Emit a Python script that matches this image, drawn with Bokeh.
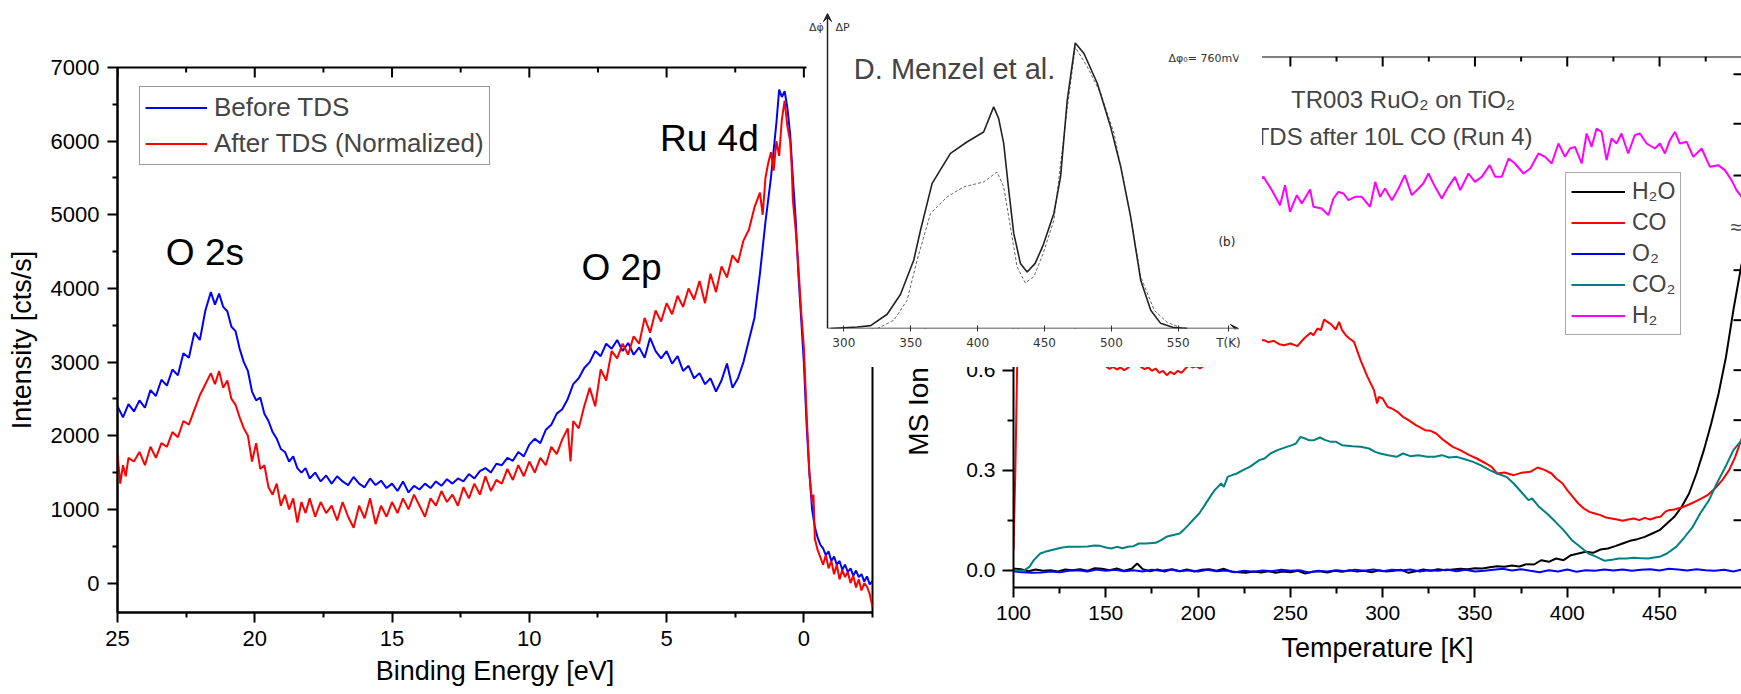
import math
from bokeh.plotting import figure
from bokeh.models import (Range1d, FixedTicker, Legend, LegendItem, Label, Span,
                          Arrow, VeeHead, Column, PrintfTickFormatter)
from bokeh.embed import file_html
from bokeh.resources import INLINE

FONT = "Liberation Sans"

# ---------------- Valence band (Al K alpha) ----------------
vb_before = [(25.0, 2400), (24.8, 2250), (24.6, 2430), (24.4, 2330), (24.2, 2480), (24.0, 2380),
             (23.8, 2620), (23.6, 2540), (23.4, 2760), (23.2, 2680), (23.0, 2900), (22.8, 2820),
             (22.6, 3120), (22.4, 3060), (22.2, 3400), (22.0, 3300), (21.8, 3700), (21.6, 3950),
             (21.45, 3780), (21.3, 3930), (21.15, 3750), (21.0, 3690), (20.85, 3480), (20.7, 3420),
             (20.55, 3180), (20.4, 3000), (20.25, 2880), (20.1, 2600), (19.95, 2480), (19.8, 2520),
             (19.65, 2300), (19.5, 2200), (19.35, 2050), (19.2, 1960), (19.05, 1820), (18.9, 1780),
             (18.75, 1650), (18.6, 1720), (18.45, 1560), (18.3, 1500), (18.15, 1560), (18.0, 1420),
             (17.8, 1500), (17.6, 1380), (17.4, 1460), (17.2, 1350), (17.0, 1450), (16.8, 1380),
             (16.6, 1330), (16.4, 1440), (16.2, 1350), (16.0, 1300), (15.8, 1420), (15.6, 1330),
             (15.4, 1390), (15.2, 1290), (15.0, 1350), (14.8, 1250), (14.6, 1380), (14.4, 1230),
             (14.2, 1320), (14.0, 1270), (13.8, 1350), (13.6, 1290), (13.4, 1380), (13.2, 1320),
             (13.0, 1410), (12.8, 1350), (12.6, 1420), (12.4, 1380), (12.2, 1480), (12.0, 1420),
             (11.8, 1520), (11.6, 1560), (11.4, 1500), (11.2, 1620), (11.0, 1600), (10.8, 1700),
             (10.6, 1660), (10.4, 1780), (10.2, 1720), (10.0, 1880), (9.8, 1960), (9.6, 1900),
             (9.4, 2080), (9.2, 2150), (9.0, 2300), (8.8, 2360), (8.6, 2500), (8.4, 2700),
             (8.2, 2780), (8.0, 2920), (7.8, 3000), (7.6, 3150), (7.4, 3080), (7.2, 3250),
             (7.0, 3180), (6.8, 3300), (6.6, 3150), (6.4, 3260), (6.2, 3100), (6.0, 3200),
             (5.8, 3060), (5.6, 3330), (5.4, 3150), (5.2, 3050), (5.0, 3150), (4.8, 2980),
             (4.6, 3080), (4.4, 2880), (4.2, 2950), (4.0, 2780), (3.8, 2850), (3.6, 2700),
             (3.4, 2780), (3.2, 2600), (3.0, 2750), (2.8, 2980), (2.6, 2650), (2.4, 2780),
             (2.2, 3000), (2.0, 3300), (1.8, 3600), (1.6, 4200), (1.4, 4900), (1.2, 5500),
             (1.0, 6250), (0.9, 6700), (0.8, 6600), (0.7, 6680), (0.6, 6450), (0.5, 6100),
             (0.4, 5500), (0.3, 4950), (0.2, 4200), (0.1, 3600), (0.0, 3000), (-0.1, 2150),
             (-0.2, 1500), (-0.3, 1000), (-0.4, 760), (-0.5, 620), (-0.6, 520), (-0.7, 470),
             (-0.8, 380), (-0.9, 430), (-1.0, 300), (-1.1, 360), (-1.2, 250), (-1.3, 300),
             (-1.4, 180), (-1.5, 250), (-1.6, 150), (-1.7, 200), (-1.8, 100), (-1.9, 170),
             (-2.0, 80), (-2.1, 120), (-2.2, 20), (-2.3, 90), (-2.4, -20), (-2.5, 30)]

vb_after = [(25.0, 1750), (24.9, 1350), (24.8, 1600), (24.7, 1450), (24.6, 1700), (24.4, 1650),
            (24.2, 1780), (24.0, 1600), (23.8, 1850), (23.6, 1700), (23.4, 1900), (23.2, 1850),
            (23.0, 2050), (22.8, 1980), (22.6, 2200), (22.4, 2150), (22.2, 2350), (22.0, 2550),
            (21.8, 2700), (21.6, 2850), (21.45, 2700), (21.3, 2880), (21.15, 2650), (21.0, 2750),
            (20.85, 2500), (20.7, 2420), (20.55, 2250), (20.4, 2100), (20.25, 2000), (20.1, 1650),
            (19.95, 1900), (19.8, 1550), (19.65, 1600), (19.5, 1300), (19.35, 1200), (19.2, 1350),
            (19.05, 1050), (18.9, 1200), (18.75, 1000), (18.6, 1150), (18.45, 820), (18.3, 1100),
            (18.15, 950), (18.0, 1150), (17.8, 900), (17.6, 1100), (17.4, 950), (17.2, 1050),
            (17.0, 850), (16.8, 1100), (16.6, 900), (16.4, 750), (16.2, 1050), (16.0, 880),
            (15.8, 1150), (15.6, 800), (15.4, 1050), (15.2, 900), (15.0, 1100), (14.8, 950),
            (14.6, 1150), (14.4, 1000), (14.2, 1200), (14.0, 1050), (13.8, 900), (13.6, 1150),
            (13.4, 1050), (13.2, 1250), (13.0, 1100), (12.8, 1200), (12.6, 1050), (12.4, 1300),
            (12.2, 1150), (12.0, 1350), (11.8, 1200), (11.6, 1450), (11.4, 1250), (11.2, 1400),
            (11.0, 1350), (10.8, 1550), (10.6, 1400), (10.4, 1600), (10.2, 1450), (10.0, 1650),
            (9.8, 1500), (9.6, 1700), (9.4, 1600), (9.2, 1850), (9.0, 1750), (8.8, 1950),
            (8.6, 2100), (8.5, 1650), (8.4, 2200), (8.2, 2100), (8.0, 2400), (7.8, 2650),
            (7.6, 2400), (7.4, 2900), (7.2, 2750), (7.0, 3150), (6.8, 3050), (6.6, 3250),
            (6.4, 3100), (6.2, 3350), (6.0, 3250), (5.8, 3600), (5.6, 3400), (5.4, 3700),
            (5.2, 3550), (5.0, 3800), (4.8, 3650), (4.6, 3900), (4.4, 3750), (4.2, 4000),
            (4.0, 3850), (3.8, 4100), (3.6, 3800), (3.4, 4200), (3.2, 3950), (3.0, 4300),
            (2.8, 4150), (2.6, 4450), (2.4, 4350), (2.2, 4650), (2.0, 4800), (1.8, 5100),
            (1.6, 5300), (1.5, 5000), (1.4, 5500), (1.3, 5700), (1.2, 5850), (1.1, 5600),
            (1.0, 6000), (0.9, 5800), (0.8, 6300), (0.7, 6550), (0.6, 6200), (0.5, 6000),
            (0.45, 5700), (0.4, 5200), (0.3, 4800), (0.2, 4300), (0.1, 3700), (0.0, 3200),
            (-0.1, 2300), (-0.2, 1500), (-0.3, 1100), (-0.35, 1200), (-0.4, 600), (-0.5, 450),
            (-0.6, 350), (-0.7, 250), (-0.8, 380), (-0.9, 200), (-1.0, 300), (-1.1, 120),
            (-1.2, 250), (-1.3, 50), (-1.4, 180), (-1.5, 80), (-1.6, 150), (-1.7, 0),
            (-1.8, 100), (-1.9, -60), (-2.0, 50), (-2.1, -100), (-2.2, 0), (-2.3, -50),
            (-2.4, -150), (-2.5, -330)]

vb_x_ticks = [25, 20, 15, 10, 5, 0]
vb_x_minor = [22.5, 17.5, 12.5, 7.5, 2.5, -2.5]
vb_y_ticks = [0, 1000, 2000, 3000, 4000, 5000, 6000, 7000]
vb_y_minor = [500, 1500, 2500, 3500, 4500, 5500, 6500]
vb_peak_names = ["O 2s", "O 2p", "Ru 4d"]
vb_peak_e = [23.24, 8.10, 5.24]
vb_peak_i = [4489, 4289, 6034]

# ---------------- TDS after 10L CO ----------------
tds_h2o = [(100, 0.005), (104, 0.003), (108, -0.003), (112, 0.002), (116, -0.002), (120, 0.0),
           (124, -0.004), (128, 0.002), (132, 0.0), (136, 0.003), (140, -0.002), (144, 0.006),
           (148, 0.004), (152, 0.0), (156, 0.005), (160, -0.002), (164, 0.004), (167, 0.02),
           (170, 0.003), (174, -0.003), (178, 0.002), (182, -0.004), (186, 0.003), (190, -0.003),
           (194, 0.002), (198, -0.004), (202, 0.001), (206, 0.003), (210, -0.002), (214, 0.004),
           (218, -0.004), (222, -0.006), (226, -0.008), (230, -0.004), (234, -0.007), (238, -0.003),
           (242, -0.008), (246, -0.004), (250, -0.006), (254, -0.002), (258, -0.01), (262, -0.005),
           (266, -0.003), (270, -0.007), (274, -0.002), (278, -0.005), (282, 0.0), (286, -0.004),
           (290, -0.002), (294, -0.006), (298, 0.0), (302, -0.004), (306, -0.002), (310, 0.001),
           (314, -0.008), (318, -0.003), (322, 0.002), (326, -0.002), (330, 0.003), (334, 0.0),
           (338, 0.002), (342, 0.004), (346, 0.003), (350, 0.006), (354, 0.005), (358, 0.009),
           (362, 0.012), (366, 0.01), (370, 0.014), (374, 0.011), (378, 0.018), (382, 0.017),
           (386, 0.03), (390, 0.025), (394, 0.035), (398, 0.03), (402, 0.045), (406, 0.05),
           (410, 0.055), (414, 0.052), (418, 0.062), (422, 0.065), (426, 0.072), (430, 0.08),
           (434, 0.088), (438, 0.093), (442, 0.1), (446, 0.11), (450, 0.12), (454, 0.14),
           (458, 0.16), (462, 0.19), (466, 0.23), (470, 0.29), (474, 0.36), (478, 0.44),
           (482, 0.53), (486, 0.64), (490, 0.78), (494.5, 0.92)]

tds_co = [(100, 0.06), (101, 0.3), (102, 0.62), (103, 0.9), (105, 1.0), (110, 0.95), (120, 0.85),
          (130, 0.75), (140, 0.68), (148, 0.63), (150, 0.612), (152, 0.604), (154, 0.61),
          (156, 0.602), (158, 0.608), (160, 0.6), (162, 0.607), (164, 0.62), (167, 0.625),
          (169, 0.61), (171, 0.603), (173, 0.608), (175, 0.598), (177, 0.605), (179, 0.592),
          (181, 0.598), (183, 0.585), (185, 0.595), (187, 0.588), (189, 0.598), (191, 0.592),
          (193, 0.604), (195, 0.615), (197, 0.608), (199, 0.612), (201, 0.605), (203, 0.613),
          (206, 0.63), (212, 0.65), (220, 0.67), (228, 0.685), (232, 0.69), (235.7, 0.69),
          (238, 0.684), (241, 0.688), (244, 0.678), (246.6, 0.675), (250, 0.68), (253.8, 0.672),
          (257.4, 0.695), (261, 0.712), (262.5, 0.705), (264.7, 0.725), (266.5, 0.72),
          (268.3, 0.752), (270, 0.745), (272, 0.738), (274.6, 0.722), (276.4, 0.745), (278, 0.72),
          (280, 0.705), (282, 0.695), (284.5, 0.685), (288, 0.63), (291.8, 0.58), (295.3, 0.54),
          (297, 0.50), (298, 0.52), (300, 0.515), (302.6, 0.49), (305, 0.485), (308, 0.475),
          (311, 0.46), (314, 0.45), (318, 0.435), (323, 0.42), (326, 0.418), (329, 0.41),
          (333, 0.39), (338, 0.37), (342, 0.36), (347, 0.345), (351, 0.335), (356, 0.32),
          (359, 0.31), (362, 0.29), (366, 0.293), (371, 0.285), (375, 0.292), (380, 0.295),
          (384, 0.308), (388, 0.3), (391.5, 0.29), (394, 0.275), (397.5, 0.26), (400, 0.24),
          (403, 0.22), (406, 0.2), (409, 0.185), (412, 0.175), (415, 0.17), (418, 0.165),
          (421, 0.158), (424, 0.155), (427, 0.152), (430, 0.148), (433, 0.152), (436, 0.155),
          (439, 0.15), (442, 0.157), (445, 0.152), (448, 0.158), (450.5, 0.16), (453, 0.175),
          (455, 0.18), (458, 0.182), (462, 0.188), (466, 0.197), (471, 0.21), (476, 0.225),
          (480, 0.245), (484, 0.27), (487.7, 0.3), (491, 0.34), (494.5, 0.395)]

tds_o2 = [(100, -0.004), (105, -0.006), (110, -0.008), (115, -0.007), (120, -0.004), (125, -0.006),
          (130, -0.002), (135, 0.0), (140, -0.004), (145, 0.002), (150, -0.002), (155, 0.001),
          (160, -0.003), (165, 0.0), (170, -0.004), (175, 0.001), (180, -0.002), (185, 0.002),
          (190, -0.003), (195, 0.0), (200, -0.004), (205, 0.001), (210, -0.003), (215, -0.001),
          (220, -0.006), (225, -0.002), (230, -0.005), (235, -0.001), (240, -0.003), (245, 0.001),
          (250, -0.002), (255, 0.0), (260, -0.007), (265, -0.002), (270, -0.004), (275, 0.0),
          (280, -0.003), (285, 0.001), (290, -0.002), (295, 0.002), (300, -0.003), (305, 0.001),
          (310, -0.001), (315, 0.002), (320, -0.004), (325, 0.0), (330, -0.002), (335, 0.002),
          (340, -0.003), (345, 0.001), (350, -0.004), (355, -0.002), (360, 0.001), (365, 0.004),
          (370, -0.001), (375, 0.003), (380, -0.002), (385, -0.006), (390, 0.0), (395, -0.004),
          (400, 0.002), (405, -0.005), (410, 0.0), (415, -0.002), (420, 0.002), (425, -0.001),
          (430, 0.002), (435, -0.002), (440, 0.001), (445, 0.003), (450, -0.001), (455, 0.004),
          (460, 0.002), (465, -0.001), (470, 0.003), (475, 0.0), (480, -0.002), (485, 0.001),
          (490, -0.004), (494.5, 0.002)]

tds_co2 = [(100, 0.0), (103, -0.002), (106, 0.0), (108.6, 0.01), (111, 0.03), (114.5, 0.05),
           (117, 0.055), (120.4, 0.06), (124, 0.065), (126.4, 0.068), (130, 0.07), (135, 0.07),
           (140, 0.071), (144, 0.074), (147, 0.073), (150, 0.068), (153, 0.065), (156, 0.07),
           (159, 0.066), (162, 0.07), (165, 0.072), (168, 0.08), (172, 0.08), (177, 0.082),
           (180, 0.09), (182.8, 0.10), (186, 0.105), (190, 0.11), (192, 0.12), (194.7, 0.135),
           (198, 0.155), (200.6, 0.17), (203, 0.19), (206.5, 0.22), (209, 0.24), (212.5, 0.26),
           (214, 0.25), (216, 0.28), (218.4, 0.285), (221, 0.29), (224.3, 0.30), (228, 0.31),
           (233.2, 0.33), (236, 0.335), (239.2, 0.35), (243, 0.36), (248, 0.37), (251, 0.375),
           (253, 0.38), (255.5, 0.40), (258, 0.395), (260, 0.39), (262.9, 0.39), (266, 0.398),
           (269, 0.39), (272, 0.385), (274.8, 0.385), (278, 0.375), (283.7, 0.372), (288, 0.37),
           (292.6, 0.365), (296, 0.355), (298.6, 0.35), (303, 0.345), (307.5, 0.34), (311, 0.35),
           (315, 0.342), (319.4, 0.345), (324, 0.34), (328.3, 0.34), (332, 0.345), (336, 0.338),
           (340.2, 0.34), (345, 0.332), (349, 0.325), (353, 0.315), (358, 0.30), (362, 0.29),
           (367, 0.28), (371, 0.26), (375.8, 0.23), (379, 0.21), (381, 0.215), (384.7, 0.19),
           (389, 0.17), (393.6, 0.145), (398, 0.12), (402.5, 0.09), (407, 0.07), (411.4, 0.05),
           (415, 0.042), (420.3, 0.028), (425, 0.032), (428, 0.035), (432.2, 0.035), (436, 0.037),
           (440, 0.036), (444, 0.035), (447, 0.038), (450, 0.04), (454, 0.05), (459, 0.07),
           (463, 0.095), (468, 0.13), (472, 0.17), (476.8, 0.21), (481, 0.26), (485.7, 0.31),
           (490, 0.36), (494.5, 0.39)]

tds_h2 = [(225, 1.13), (230, 1.16), (235.4, 1.18), (240, 1.14), (244.4, 1.095), (247.1, 1.155),
          (249.8, 1.075), (253.5, 1.125), (256.2, 1.10), (260.7, 1.142), (262.5, 1.09),
          (267, 1.085), (270.6, 1.065), (273.3, 1.115), (276, 1.135), (278.8, 1.13), (281.5, 1.11),
          (285, 1.12), (288.7, 1.12), (293.2, 1.09), (296, 1.165), (298.6, 1.12), (301.3, 1.145),
          (305, 1.11), (308.6, 1.145), (312, 1.185), (315.8, 1.125), (319.4, 1.145), (322, 1.16),
          (324.8, 1.19), (328.4, 1.15), (332, 1.115), (335.6, 1.15), (339.2, 1.18), (342, 1.14),
          (346.5, 1.19), (350, 1.165), (353.7, 1.18), (358, 1.215), (361, 1.18), (364.5, 1.18),
          (368.2, 1.235), (371.7, 1.22), (376.3, 1.19), (380, 1.205), (384.4, 1.25), (388, 1.24),
          (391.6, 1.22), (395.2, 1.28), (398.8, 1.24), (401.5, 1.265), (404.2, 1.27),
          (407.8, 1.22), (410.5, 1.31), (413.2, 1.27), (415.9, 1.325), (418.6, 1.315),
          (421.3, 1.23), (424, 1.295), (426.7, 1.28), (429.4, 1.31), (433, 1.25), (436.6, 1.305),
          (439.4, 1.31), (443, 1.28), (447.5, 1.265), (450.2, 1.28), (452.9, 1.25), (455.6, 1.29),
          (458.4, 1.315), (461, 1.28), (464.7, 1.285), (468.3, 1.24), (472.8, 1.265),
          (477.3, 1.21), (481.8, 1.215), (485.4, 1.20), (489, 1.17), (491.7, 1.14), (494.5, 1.12)]

tds_x_ticks = [100, 150, 200, 250, 300, 350, 400, 450]
tds_x_minor = [125, 175, 225, 275, 325, 375, 425, 475]
tds_y_ticks = [0.0, 0.3, 0.6]
tds_y_minor = [0.15, 0.45]
tds_right_ticks = [0.15, 0.3, 0.45, 0.6, 0.75, 0.9, 1.184, 1.339, 1.488]
tds_series_names = ["H\u2082O", "CO", "O\u2082", "CO\u2082", "H\u2082"]
tds_series_colors = ["#000000", "#ff0000", "#0000ff", "#008080", "#ff00ff"]

# ---------------- Inset: D. Menzel et al. ----------------
menzel_solid = [(290, 0.0), (310, 0.005), (320, 0.01), (332.4, 0.05), (342.4, 0.12), (352.3, 0.24),
                (357.3, 0.344), (366, 0.508), (379.7, 0.613), (392, 0.653), (404.5, 0.688),
                (412, 0.776), (415.7, 0.736), (419.5, 0.648), (423, 0.496), (427, 0.333),
                (432, 0.228), (437, 0.198), (443, 0.228), (449, 0.292), (457, 0.403), (462, 0.531),
                (467, 0.80), (473, 1.0), (479.5, 0.963), (489.5, 0.858), (499.4, 0.706),
                (507, 0.566), (514.4, 0.391), (521.9, 0.169), (529.4, 0.064), (536.8, 0.018),
                (546.8, 0.003), (556.7, 0.0)]
menzel_dashed = [(325, 0.0), (337.4, 0.029), (347.3, 0.099), (354.8, 0.24), (364.8, 0.403),
                 (377.2, 0.461), (389.7, 0.496), (404.5, 0.513), (414.5, 0.548), (419.5, 0.496),
                 (424.5, 0.356), (429.5, 0.216), (435.6, 0.160), (442, 0.181), (449, 0.263),
                 (457, 0.379), (467, 0.77), (473, 0.985), (482, 0.916), (492, 0.823), (502, 0.683),
                 (514.4, 0.391), (522, 0.18), (532, 0.064), (541.8, 0.021), (551.7, 0.003),
                 (556.7, 0.0)]
menzel_x_ticks = [300, 350, 400, 450, 500, 550]
menzel_t_axis_origin = 287.8      # temperature where the hand-drawn vertical axis stands
menzel_t_label_pos = 587.5        # where the "T(K)" axis caption sits
menzel_t_label = "T(K)"


def unzip(pairs):
    return [a for a, _ in pairs], [b for _, b in pairs]


def style_axis(ax, tick_out, minor_out, label_px, title_px):
    ax.axis_line_width = 2
    ax.axis_line_color = "black"
    ax.major_tick_line_width = 2
    ax.minor_tick_line_width = 2
    ax.major_tick_out = tick_out
    ax.major_tick_in = 0
    ax.minor_tick_out = minor_out
    ax.minor_tick_in = 0
    ax.major_label_text_font = FONT
    ax.major_label_text_font_size = label_px
    ax.major_label_text_color = "black"
    ax.axis_label_text_font = FONT
    ax.axis_label_text_font_size = title_px
    ax.axis_label_text_font_style = "normal"
    ax.axis_label_text_color = "black"


def inward_ticks(p, xs, ys, length, angle):
    p.ray(x=xs, y=ys, length=length, angle=angle, length_units="screen",
          line_color="black", line_width=2)


# ================= Left chart =================
pL = figure(width=890, height=694, x_range=Range1d(25, -2.5), y_range=Range1d(-400, 7000),
            output_backend="svg", toolbar_location=None, frame_align=False,
            min_border_left=117, min_border_right=18, min_border_top=67, min_border_bottom=82,
            background_fill_color="white", border_fill_color="white")
pL.grid.visible = False
pL.outline_line_color = "black"
pL.outline_line_width = 2

xa = pL.xaxis[0]
xa.ticker = FixedTicker(ticks=vb_x_ticks, minor_ticks=vb_x_minor)
style_axis(xa, 10, 5, "22px", "27px")
xa.major_label_standoff = 8
xa.axis_label = "Binding Energy [eV]"
xa.axis_label_standoff = 7

ya = pL.yaxis[0]
ya.ticker = FixedTicker(ticks=vb_y_ticks, minor_ticks=vb_y_minor)
style_axis(ya, 10, 5, "22px", "27px")
ya.major_label_standoff = 8
ya.axis_label = "Intensity [cts/s]"
ya.axis_label_standoff = 11

vb_top = pL.y_range.end
inward_ticks(pL, vb_x_ticks, [vb_top] * len(vb_x_ticks), 10, -math.pi / 2)
inward_ticks(pL, vb_x_minor, [vb_top] * len(vb_x_minor), 5, -math.pi / 2)

e_b, i_b = unzip(vb_before)
e_a, i_a = unzip(vb_after)
r_before = pL.line(e_b, i_b, line_color="#0000ff", line_width=2)
r_after = pL.line(e_a, i_a, line_color="#ff0000", line_width=2)

legL = Legend(items=[LegendItem(label="Before TDS", renderers=[r_before]),
                     LegendItem(label="After TDS (Normalized)", renderers=[r_after])],
              location=(22, 447), label_text_font=FONT, label_text_font_size="26px",
              glyph_width=62, glyph_height=27, label_height=27, spacing=5, padding=5,
              label_standoff=7, border_line_color="#333333", border_line_width=1.5,
              background_fill_color="white", background_fill_alpha=1.0)
pL.add_layout(legL)

for name, ex, iy in zip(vb_peak_names, vb_peak_e, vb_peak_i):
    pL.add_layout(Label(x=ex, y=iy, text=name, text_font=FONT, text_font_size="37px",
                        text_align="left", text_baseline="alphabetic", text_color="black"))

pL.add_layout(Label(x=11.07, y=7601, text="Valence Band (Al K\u03b1)", text_font=FONT,
                    text_font_size="26px", text_align="center", text_baseline="middle",
                    text_color="black"))

# ================= Right chart =================
pR = figure(width=846, height=694, x_range=Range1d(100, 494.4), y_range=Range1d(-0.052, 1.541),
            output_backend="svg", toolbar_location=None, frame_align=False,
            min_border_left=118, min_border_right=0, min_border_top=56, min_border_bottom=107,
            background_fill_color="white", border_fill_color="white")
pR.grid.visible = False
pR.outline_line_color = None

xb = pR.xaxis[0]
xb.ticker = FixedTicker(ticks=tds_x_ticks, minor_ticks=tds_x_minor)
style_axis(xb, 10, 6, "21px", "27px")
xb.major_label_standoff = 8
xb.axis_label = "Temperature [K]"
xb.axis_label_standoff = 10

yb = pR.yaxis[0]
yb.ticker = FixedTicker(ticks=tds_y_ticks, minor_ticks=tds_y_minor)
yb.formatter = PrintfTickFormatter(format="%.1f")
style_axis(yb, 11, 6, "21px", "28px")
yb.major_label_standoff = 7
yb.axis_label = "MS Ion Current [a. u.]"
yb.axis_label_standoff = 29

tds_top = pR.y_range.end
tds_right = pR.x_range.end
pR.add_layout(Span(location=tds_top, dimension="width", line_color="black", line_width=2))
inward_ticks(pR, tds_x_ticks, [tds_top] * len(tds_x_ticks), 10, -math.pi / 2)
inward_ticks(pR, tds_x_minor, [tds_top] * len(tds_x_minor), 5, -math.pi / 2)
inward_ticks(pR, [tds_right] * len(tds_right_ticks), tds_right_ticks, 8, math.pi)

tds_all = [tds_h2o, tds_co, tds_o2, tds_co2, tds_h2]
items = []
for name, col, ser in zip(tds_series_names, tds_series_colors, tds_all):
    tx, ty = unzip(ser)
    rr = pR.line(tx, ty, line_color=col, line_width=2)
    items.append(LegendItem(label=name, renderers=[rr]))

legR = Legend(items=items, location=(552, 252), label_text_font=FONT, label_text_font_size="23px",
              glyph_width=54, glyph_height=27, label_height=27, spacing=4, padding=5,
              label_standoff=7, border_line_color="#555555", border_line_width=1.5,
              background_fill_color="white", background_fill_alpha=1.0)
pR.add_layout(legR)

pR.add_layout(Label(x=250.4, y=1.412, text="TR003 RuO\u2082 on TiO\u2082", text_font=FONT,
                    text_font_size="24px", text_align="left", text_baseline="alphabetic"))
pR.add_layout(Label(x=381.7, y=1.30, text="TDS after 10L CO (Run 4)", text_font=FONT,
                    text_font_size="24px", text_align="right", text_baseline="alphabetic"))
pR.add_layout(Label(x=491.5, y=1.03, text="\u2248", text_font=FONT, text_font_size="20px",
                    text_align="center", text_baseline="middle"))

# ================= Inset (D. Menzel et al.) =================
pI = figure(width=456, height=367, x_range=Range1d(272.1, 595.0), y_range=Range1d(0, 1.103),
            output_backend="svg", toolbar_location=None, y_axis_location=None, frame_align=False,
            min_border_left=0, min_border_right=24, min_border_top=13, min_border_bottom=39,
            background_fill_color="white", border_fill_color="white")
pI.grid.visible = False
pI.outline_line_color = None
xi = pI.xaxis[0]
xi.ticker = FixedTicker(ticks=menzel_x_ticks + [menzel_t_label_pos], minor_ticks=[])
xi.major_label_overrides = {menzel_t_label_pos: menzel_t_label}
xi.axis_line_color = None
xi.major_tick_in = 3
xi.major_tick_out = 3
xi.major_tick_line_color = "#333333"
xi.major_tick_line_width = 1
xi.major_label_text_font = "DejaVu Sans"
xi.major_label_text_font_size = "12px"
xi.major_label_text_color = "#333333"
xi.major_label_standoff = 4

ms_x, ms_y = unzip(menzel_solid)
md_x, md_y = unzip(menzel_dashed)
pI.line(md_x, md_y, line_color="#666666", line_width=1, line_dash="3 2")
pI.line(ms_x, ms_y, line_color="#222222", line_width=1.6)

pI.add_layout(Label(x=307.5, y=0.91, text="D. Menzel et al.", text_font=FONT,
                    text_font_size="29px", text_align="left", text_baseline="alphabetic"))
pI.add_layout(Label(x=293.8, y=1.055, text="\u0394P", text_font="DejaVu Sans",
                    text_font_size="11px", text_align="left", text_baseline="middle",
                    text_color="#333333"))
pI.add_layout(Label(x=274.0, y=1.055, text="\u0394\u03c6\u0307", text_font="DejaVu Sans",
                    text_font_size="11px", text_align="left", text_baseline="middle",
                    text_color="#333333"))
pI.add_layout(Label(x=542.7, y=0.946, text="\u0394\u03c6\u2080= 760mV", text_font="DejaVu Sans",
                    text_font_size="11px", text_align="left", text_baseline="middle",
                    text_color="#333333"))
pI.add_layout(Label(x=580.0, y=0.303, text="(b)", text_font="DejaVu Sans",
                    text_font_size="12px", text_align="left", text_baseline="middle",
                    text_color="#222222"))

xr1 = pI.x_range.end
yr1 = pI.y_range.end
pI.add_layout(Arrow(end=VeeHead(size=8, line_color="#222222", fill_color="#222222"),
                    x_start=menzel_t_axis_origin, y_start=0, x_end=xr1, y_end=0,
                    line_color="#222222", line_width=1.5))
pI.add_layout(Arrow(end=VeeHead(size=8, line_color="#222222", fill_color="#222222"),
                    x_start=menzel_t_axis_origin, y_start=0, x_end=menzel_t_axis_origin, y_end=yr1,
                    line_color="#222222", line_width=1.5))

# ================= Absolute placement (inset drawn on top) =================
pL.styles = {"position": "absolute", "left": "0px", "top": "0px"}
pR.styles = {"position": "absolute", "left": "895px", "top": "0px"}
pI.styles = {"position": "absolute", "left": "806px", "top": "0px"}

root = Column(children=[pL, pR, pI], width=1741, height=694, sizing_mode="fixed",
              styles={"position": "absolute", "left": "0px", "top": "0px"})

open("out.html", "w").write(file_html(root, INLINE))
